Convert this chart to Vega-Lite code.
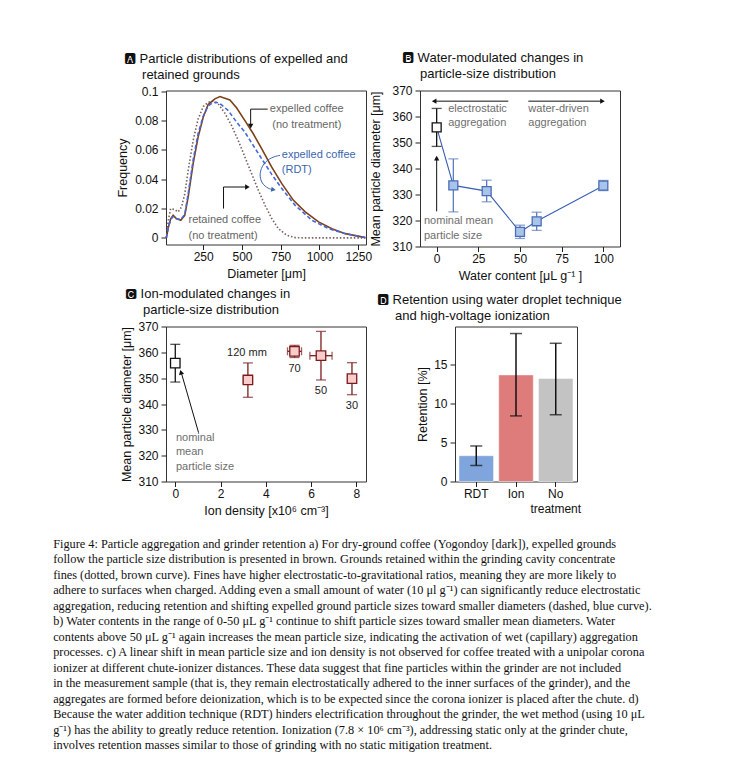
{
  "$schema": "https://vega.github.io/schema/vega-lite/v6.json",
  "autosize": {"type": "pad"},
  "padding": {"left": 53, "top": 51.5, "right": 5, "bottom": 5},
  "background": "white",
  "config": {
    "font": "Liberation Sans",
    "view": {"stroke": "#333333", "strokeWidth": 1},
    "axis": {"grid": false, "domain": false, "ticks": true, "tickColor": "#222222", "tickSize": 5, "tickWidth": 1, "labelColor": "#111111", "labelFontSize": 12, "labelFont": "Liberation Sans", "titleFont": "Liberation Sans", "titleFontSize": 12.5, "titleFontWeight": "normal", "titleColor": "#111111", "labelPadding": 3, "labelFlush": false, "labelOverlap": false},
    "axisX": {"labelPadding": 2, "titlePadding": 5},
    "title": {"font": "Liberation Sans, DejaVu Sans", "fontSize": 13, "fontWeight": "normal", "anchor": "start", "frame": "group", "color": "#111111", "lineHeight": 16},
    "text": {"font": "Liberation Sans"}
  },
  "title": {
    "text": [
      "Figure 4: Particle aggregation and grinder retention a) For dry-ground coffee (Yogondoy [dark]), expelled grounds",
      "follow the particle size distribution is presented in brown.  Grounds retained within the grinding cavity concentrate",
      "fines (dotted, brown curve).  Fines have higher electrostatic-to-gravitational ratios, meaning they are more likely to",
      "adhere to surfaces when charged. Adding even a small amount of water (10 μl g⁻¹) can significantly reduce electrostatic",
      "aggregation, reducing retention and shifting expelled ground particle sizes toward smaller diameters (dashed, blue curve).",
      "b) Water contents in the range of 0-50 μL g⁻¹ continue to shift particle sizes toward smaller mean diameters.  Water",
      "contents above 50 μL g⁻¹ again increases the mean particle size, indicating the activation of wet (capillary) aggregation",
      "processes. c) A linear shift in mean particle size and ion density is not observed for coffee treated with a unipolar corona",
      "ionizer at different chute-ionizer distances.  These data suggest that fine particles within the grinder are not included",
      "in the measurement sample (that is, they remain electrostatically adhered to the inner surfaces of the grinder), and the",
      "aggregates are formed before deionization, which is to be expected since the corona ionizer is placed after the chute. d)",
      "Because the water addition technique (RDT) hinders electrification throughout the grinder, the wet method (using 10 μL",
      "g⁻¹) has the ability to greatly reduce retention. Ionization (7.8 × 10⁶ cm⁻³), addressing static only at the grinder chute,",
      "involves retention masses similar to those of grinding with no static mitigation treatment."
    ],
    "orient": "bottom",
    "anchor": "start",
    "frame": "bounds",
    "font": "Liberation Serif",
    "fontSize": 12.3,
    "fontWeight": "normal",
    "lineHeight": 15.5,
    "color": "#111111",
    "offset": 20,
    "dx": -63,
    "baseline": "top"
  },
  "datasets": {
    "dist": [
      {"s": "exp", "d": 12, "f": 0}, {"s": "exp", "d": 25, "f": 0.007}, {"s": "exp", "d": 40, "f": 0.013}, {"s": "exp", "d": 56, "f": 0.0154}, {"s": "exp", "d": 77, "f": 0.0132}, {"s": "exp", "d": 105, "f": 0.012}, {"s": "exp", "d": 131, "f": 0.0154}, {"s": "exp", "d": 153, "f": 0.028}, {"s": "exp", "d": 185, "f": 0.0506}, {"s": "exp", "d": 217, "f": 0.0687}, {"s": "exp", "d": 250, "f": 0.0823}, {"s": "exp", "d": 282, "f": 0.0909}, {"s": "exp", "d": 325, "f": 0.0948}, {"s": "exp", "d": 358, "f": 0.0964}, {"s": "exp", "d": 390, "f": 0.0952}, {"s": "exp", "d": 422, "f": 0.094}, {"s": "exp", "d": 465, "f": 0.0887}, {"s": "exp", "d": 519, "f": 0.08}, {"s": "exp", "d": 573, "f": 0.071}, {"s": "exp", "d": 627, "f": 0.0608}, {"s": "exp", "d": 692, "f": 0.0483}, {"s": "exp", "d": 757, "f": 0.037}, {"s": "exp", "d": 832, "f": 0.0256}, {"s": "exp", "d": 908, "f": 0.0177}, {"s": "exp", "d": 994, "f": 0.0109}, {"s": "exp", "d": 1080, "f": 0.0063}, {"s": "exp", "d": 1167, "f": 0.0029}, {"s": "exp", "d": 1296, "f": 0.0002},
      {"s": "rdt", "d": 12, "f": 0}, {"s": "rdt", "d": 25, "f": 0.007}, {"s": "rdt", "d": 40, "f": 0.0125}, {"s": "rdt", "d": 56, "f": 0.0145}, {"s": "rdt", "d": 77, "f": 0.013}, {"s": "rdt", "d": 105, "f": 0.0125}, {"s": "rdt", "d": 131, "f": 0.016}, {"s": "rdt", "d": 153, "f": 0.03}, {"s": "rdt", "d": 185, "f": 0.053}, {"s": "rdt", "d": 217, "f": 0.071}, {"s": "rdt", "d": 250, "f": 0.083}, {"s": "rdt", "d": 282, "f": 0.09}, {"s": "rdt", "d": 314, "f": 0.0923}, {"s": "rdt", "d": 336, "f": 0.0925}, {"s": "rdt", "d": 365, "f": 0.091}, {"s": "rdt", "d": 412, "f": 0.0868}, {"s": "rdt", "d": 465, "f": 0.079}, {"s": "rdt", "d": 519, "f": 0.0721}, {"s": "rdt", "d": 573, "f": 0.063}, {"s": "rdt", "d": 627, "f": 0.054}, {"s": "rdt", "d": 692, "f": 0.0433}, {"s": "rdt", "d": 757, "f": 0.0336}, {"s": "rdt", "d": 843, "f": 0.0222}, {"s": "rdt", "d": 951, "f": 0.012}, {"s": "rdt", "d": 1059, "f": 0.0063}, {"s": "rdt", "d": 1167, "f": 0.0029}, {"s": "rdt", "d": 1296, "f": 0.0002},
      {"s": "ret", "d": 12, "f": 0}, {"s": "ret", "d": 25, "f": 0.012}, {"s": "ret", "d": 40, "f": 0.02}, {"s": "ret", "d": 66, "f": 0.0193}, {"s": "ret", "d": 88, "f": 0.0177}, {"s": "ret", "d": 110, "f": 0.021}, {"s": "ret", "d": 131, "f": 0.03}, {"s": "ret", "d": 153, "f": 0.046}, {"s": "ret", "d": 185, "f": 0.0664}, {"s": "ret", "d": 217, "f": 0.081}, {"s": "ret", "d": 250, "f": 0.0896}, {"s": "ret", "d": 282, "f": 0.0925}, {"s": "ret", "d": 314, "f": 0.0932}, {"s": "ret", "d": 347, "f": 0.0914}, {"s": "ret", "d": 390, "f": 0.085}, {"s": "ret", "d": 433, "f": 0.0766}, {"s": "ret", "d": 476, "f": 0.0664}, {"s": "ret", "d": 519, "f": 0.0551}, {"s": "ret", "d": 562, "f": 0.0438}, {"s": "ret", "d": 606, "f": 0.0324}, {"s": "ret", "d": 649, "f": 0.0222}, {"s": "ret", "d": 692, "f": 0.0132}, {"s": "ret", "d": 735, "f": 0.0063}, {"s": "ret", "d": 789, "f": 0.0018}, {"s": "ret", "d": 843, "f": 0.0002}, {"s": "ret", "d": 900, "f": 0}, {"s": "ret", "d": 1000, "f": 0}, {"s": "ret", "d": 1100, "f": 0}, {"s": "ret", "d": 1200, "f": 0}, {"s": "ret", "d": 1296, "f": 0}
    ],
    "annA": [
      {"g": "c", "d": 918, "f": 0.0878, "t": "expelled coffee"},
      {"g": "c", "d": 918, "f": 0.0769, "t": "(no treatment)"},
      {"g": "b", "d": 757, "f": 0.0567, "t": "expelled coffee"},
      {"g": "b", "d": 757, "f": 0.0463, "t": "(RDT)"},
      {"g": "l", "d": 155, "f": 0.0122, "t": "retained coffee"},
      {"g": "l", "d": 155, "f": 0.0014, "t": "(no treatment)"}
    ],
    "arrA": [
      {"a": "exp", "o": 1, "d": 666, "f": 0.0878}, {"a": "exp", "o": 2, "d": 556, "f": 0.0878}, {"a": "exp", "o": 3, "d": 556, "f": 0.0765},
      {"a": "ret", "o": 1, "d": 381, "f": 0.02}, {"a": "ret", "o": 2, "d": 381, "f": 0.0347}, {"a": "ret", "o": 3, "d": 535, "f": 0.0347}
    ],
    "arrArdt": [
      {"o": 1, "d": 746, "f": 0.0563}, {"o": 2, "d": 692, "f": 0.0551}, {"o": 3, "d": 638, "f": 0.051}, {"o": 4, "d": 610, "f": 0.0437}, {"o": 5, "d": 627, "f": 0.0369}, {"o": 6, "d": 671, "f": 0.0335}, {"o": 7, "d": 700, "f": 0.0329}
    ],
    "headA": [
      {"dir": "down", "d": 556, "f": 0.0762},
      {"dir": "right", "d": 535, "f": 0.0347}
    ],
    "headArdt": [{"d": 703, "f": 0.0329}],
    "ptsB": [
      {"w": 0, "d": 355.8, "lo": 348.5, "hi": 363.1},
      {"w": 10, "d": 333.5, "lo": 323.3, "hi": 343.7},
      {"w": 30, "d": 331.3, "lo": 327.2, "hi": 335.5},
      {"w": 50, "d": 315.6, "lo": 313.1, "hi": 318.2},
      {"w": 60, "d": 319.7, "lo": 316.2, "hi": 323.2},
      {"w": 100, "d": 333.4, "lo": 331.5, "hi": 335.4}
    ],
    "arrB": [
      {"a": "l", "o": 1, "w": 43, "d": 365.9}, {"a": "l", "o": 2, "w": -1.5, "d": 365.9},
      {"a": "r", "o": 1, "w": 55, "d": 365.9}, {"a": "r", "o": 2, "w": 99.5, "d": 365.9},
      {"a": "u", "o": 1, "w": 0, "d": 323.5}, {"a": "u", "o": 2, "w": 0, "d": 344}
    ],
    "headB": [
      {"dir": "left", "w": -1.5, "d": 365.9},
      {"dir": "right", "w": 99.5, "d": 365.9},
      {"dir": "up", "w": 0, "d": 344}
    ],
    "annB": [
      {"w": 6.9, "d": 362.9, "t": "electrostatic"},
      {"w": 6.9, "d": 357.4, "t": "aggregation"},
      {"w": 55, "d": 362.9, "t": "water-driven"},
      {"w": 55, "d": 357.4, "t": "aggregation"},
      {"w": -7.6, "d": 319.7, "t": "nominal mean"},
      {"w": -7.6, "d": 313.9, "t": "particle size"}
    ],
    "ptsC": [
      {"n": 0, "d": 355.8, "lo": 348.5, "hi": 363.1, "xl": 0, "xh": 0},
      {"n": 3.21, "d": 349.3, "lo": 342.6, "hi": 355.9, "xl": 3.01, "xh": 3.41},
      {"n": 5.27, "d": 360.4, "lo": 358.0, "hi": 362.7, "xl": 4.96, "xh": 5.58},
      {"n": 6.44, "d": 358.7, "lo": 349.3, "hi": 368.1, "xl": 5.95, "xh": 6.93},
      {"n": 7.81, "d": 349.8, "lo": 343.6, "hi": 356.0, "xl": 7.62, "xh": 8.0}
    ],
    "annCg": [
      {"n": 0.03, "d": 327, "t": "nominal"},
      {"n": 0.03, "d": 321.4, "t": "mean"},
      {"n": 0.03, "d": 315.8, "t": "particle size"}
    ],
    "annCk": [
      {"n": 3.17, "d": 359.7, "t": "120 mm"},
      {"n": 5.27, "d": 353.5, "t": "70"},
      {"n": 6.44, "d": 345.2, "t": "50"},
      {"n": 7.81, "d": 339.4, "t": "30"}
    ],
    "arrC": [
      {"o": 1, "n": 1.03, "d": 328.9}, {"o": 2, "n": 0.27, "d": 352.0}
    ],
    "headC": [{"n": 0.25, "d": 352.3}],
    "barD": [
      {"k": "RDT", "v": 3.3, "lo": 2.05, "hi": 4.55},
      {"k": "Ion", "v": 13.65, "lo": 8.4, "hi": 18.95},
      {"k": "No treatment", "v": 13.2, "lo": 8.55, "hi": 17.7}
    ]
  },
  "bounds": "flush",
  "spacing": 236,
  "vconcat": [
    {
      "bounds": "flush",
      "spacing": 54,
      "hconcat": [
        {
          "width": 200,
          "height": 154,
          "title": {"text": ["🅰 Particle distributions of expelled and", "\u200b\u00a0\u00a0\u00a0\u00a0\u00a0retained grounds"], "dx": -42, "offset": 3.5},
          "encoding": {
            "x": {"field": "d", "type": "quantitative", "scale": {"domain": [10, 1300], "nice": false, "zero": false}, "axis": {"values": [250, 500, 750, 1000, 1250], "format": "d", "title": "Diameter [μm]"}},
            "y": {"field": "f", "type": "quantitative", "scale": {"domain": [-0.0045, 0.1005], "nice": false, "zero": false}, "axis": {"values": [0, 0.02, 0.04, 0.06, 0.08, 0.1], "format": "~g", "title": "Frequency", "titlePadding": 5}}
          },
          "layer": [
            {"data": {"name": "dist"}, "transform": [{"filter": "datum.s == 'ret'"}], "mark": {"type": "line", "color": "#7a5f5f", "strokeWidth": 1.6, "strokeDash": [1.5, 2]}, "encoding": {}},
            {"data": {"name": "dist"}, "transform": [{"filter": "datum.s == 'exp'"}], "mark": {"type": "line", "color": "#7d4119", "strokeWidth": 1.6}, "encoding": {}},
            {"data": {"name": "dist"}, "transform": [{"filter": "datum.s == 'rdt'"}], "mark": {"type": "line", "color": "#4466e0", "strokeWidth": 1.6, "strokeDash": [4, 2.5]}, "encoding": {}},
            {"data": {"name": "arrA"}, "mark": {"type": "line", "color": "#111111", "strokeWidth": 1}, "encoding": {"detail": {"field": "a"}, "order": {"field": "o"}}},
            {"data": {"name": "arrArdt"}, "mark": {"type": "line", "color": "#3a66b0", "strokeWidth": 1, "interpolate": "basis"}, "encoding": {"order": {"field": "o"}}},
            {"data": {"name": "headA"}, "mark": {"type": "point", "filled": true, "color": "#111111", "size": 28, "opacity": 1}, "encoding": {"shape": {"field": "dir", "type": "nominal", "scale": {"domain": ["down", "right", "left", "up"], "range": ["triangle-down", "triangle-right", "triangle-left", "triangle-up"]}, "legend": null}}},
            {"data": {"name": "headArdt"}, "mark": {"type": "point", "filled": true, "color": "#3a66b0", "size": 28, "opacity": 1, "shape": "triangle-right", "angle": 10}, "encoding": {}},
            {"data": {"name": "annA"}, "transform": [{"filter": "datum.g == 'c'"}], "mark": {"type": "text", "align": "center", "baseline": "middle", "fontSize": 11, "color": "#666666"}, "encoding": {"text": {"field": "t"}}},
            {"data": {"name": "annA"}, "transform": [{"filter": "datum.g == 'l'"}], "mark": {"type": "text", "align": "left", "baseline": "middle", "fontSize": 11, "color": "#666666"}, "encoding": {"text": {"field": "t"}}},
            {"data": {"name": "annA"}, "transform": [{"filter": "datum.g == 'b'"}], "mark": {"type": "text", "align": "left", "baseline": "middle", "fontSize": 11, "color": "#3a66b0"}, "encoding": {"text": {"field": "t"}}}
          ]
        },
        {
          "width": 200,
          "height": 156,
          "title": {"text": ["🅱 Water-modulated changes in", "\u200b\u00a0\u00a0\u00a0\u00a0\u00a0particle-size distribution"], "dx": -18, "offset": 3.5},
          "encoding": {
            "x": {"field": "w", "type": "quantitative", "scale": {"domain": [-10, 110], "nice": false, "zero": false}, "axis": {"values": [0, 25, 50, 75, 100], "title": "Water content [μL g⁻¹ ]"}},
            "y": {"field": "d", "type": "quantitative", "scale": {"domain": [310, 370], "nice": false, "zero": false}, "axis": {"values": [310, 320, 330, 340, 350, 360, 370], "title": "Mean particle diameter [μm]", "titlePadding": 9}}
          },
          "layer": [
            {"data": {"values": [{}]}, "mark": {"type": "rect", "fill": {"gradient": "linear", "x1": 0, "x2": 1, "y1": 0, "y2": 0, "stops": [{"offset": 0, "color": "#f56e6e"}, {"offset": 0.5, "color": "#ffffff"}, {"offset": 1, "color": "#c8daf6"}]}}, "encoding": {"x": {"datum": -10}, "x2": {"datum": 110}, "y": {"datum": 310}, "y2": {"datum": 370}}},
            {"data": {"name": "arrB"}, "mark": {"type": "line", "color": "#111111", "strokeWidth": 1}, "encoding": {"detail": {"field": "a"}, "order": {"field": "o"}}},
            {"data": {"name": "headB"}, "mark": {"type": "point", "filled": true, "color": "#111111", "size": 28, "opacity": 1}, "encoding": {"shape": {"field": "dir", "type": "nominal", "scale": {"domain": ["down", "right", "left", "up"], "range": ["triangle-down", "triangle-right", "triangle-left", "triangle-up"]}, "legend": null}}},
            {"data": {"name": "annB"}, "mark": {"type": "text", "align": "left", "baseline": "middle", "fontSize": 11, "color": "#6e6e6e"}, "encoding": {"text": {"field": "t"}}},
            {"data": {"name": "ptsB"}, "mark": {"type": "rule", "strokeWidth": 1.3}, "encoding": {"y": {"field": "lo", "type": "quantitative"}, "y2": {"field": "hi"}, "color": {"condition": {"test": "datum.w == 0", "value": "#111111"}, "value": "#5a7cc0"}}},
            {"data": {"name": "ptsB"}, "transform": [{"fold": ["lo", "hi"], "as": ["k", "v"]}], "mark": {"type": "tick", "orient": "horizontal", "size": 10, "thickness": 1.3}, "encoding": {"y": {"field": "v", "type": "quantitative"}, "color": {"condition": {"test": "datum.w == 0", "value": "#111111"}, "value": "#5a7cc0"}}},
            {"data": {"name": "ptsB"}, "mark": {"type": "line", "color": "#3a5fb5", "strokeWidth": 1.1}, "encoding": {}},
            {"data": {"name": "ptsB"}, "mark": {"type": "point", "shape": "square", "filled": true, "size": 80, "strokeWidth": 1.3, "opacity": 1}, "encoding": {"fill": {"condition": {"test": "datum.w == 0", "value": "#ffffff"}, "value": "#a9c4ea"}, "stroke": {"condition": {"test": "datum.w == 0", "value": "#111111"}, "value": "#4a6db5"}}},
            {"data": {"values": [{}]}, "mark": {"type": "rect", "fillOpacity": 0, "stroke": "#333333", "strokeWidth": 1}, "encoding": {"x": {"datum": -10}, "x2": {"datum": 110}, "y": {"datum": 310}, "y2": {"datum": 370}}}
          ]
        }
      ]
    },
    {
      "bounds": "flush",
      "spacing": 89,
      "hconcat": [
        {
          "width": 200,
          "height": 155,
          "title": {"text": ["🅲 Ion-modulated changes in", "\u200b\u00a0\u00a0\u00a0\u00a0\u00a0particle-size distribution"], "dx": -41, "offset": 3.5},
          "encoding": {
            "x": {"field": "n", "type": "quantitative", "scale": {"domain": [-0.41, 8.43], "nice": false, "zero": false}, "axis": {"values": [0, 2, 4, 6, 8], "title": "Ion density [x10⁶ cm⁻³]"}},
            "y": {"field": "d", "type": "quantitative", "scale": {"domain": [310, 370], "nice": false, "zero": false}, "axis": {"values": [310, 320, 330, 340, 350, 360, 370], "title": "Mean particle diameter [μm]", "titlePadding": 4}}
          },
          "layer": [
            {"data": {"name": "arrC"}, "mark": {"type": "line", "color": "#111111", "strokeWidth": 1}, "encoding": {"order": {"field": "o"}}},
            {"data": {"name": "headC"}, "mark": {"type": "point", "filled": true, "color": "#111111", "size": 28, "opacity": 1, "shape": "triangle-up", "angle": -16}, "encoding": {}},
            {"data": {"name": "annCg"}, "mark": {"type": "text", "align": "left", "baseline": "middle", "fontSize": 11, "color": "#6e6e6e"}, "encoding": {"text": {"field": "t"}}},
            {"data": {"name": "annCk"}, "mark": {"type": "text", "align": "center", "baseline": "middle", "fontSize": 11, "color": "#222222"}, "encoding": {"text": {"field": "t"}}},
            {"data": {"name": "ptsC"}, "mark": {"type": "rule", "strokeWidth": 1.3}, "encoding": {"y": {"field": "lo", "type": "quantitative"}, "y2": {"field": "hi"}, "color": {"condition": {"test": "datum.n == 0", "value": "#111111"}, "value": "#7a1c1c"}}},
            {"data": {"name": "ptsC"}, "transform": [{"fold": ["lo", "hi"], "as": ["k", "v"]}], "mark": {"type": "tick", "orient": "horizontal", "size": 10, "thickness": 1.3}, "encoding": {"y": {"field": "v", "type": "quantitative"}, "color": {"condition": {"test": "datum.n == 0", "value": "#111111"}, "value": "#7a1c1c"}}},
            {"data": {"name": "ptsC"}, "transform": [{"filter": "datum.xh > datum.xl"}], "mark": {"type": "rule", "strokeWidth": 1.3, "color": "#7a1c1c"}, "encoding": {"x": {"field": "xl", "type": "quantitative"}, "x2": {"field": "xh"}}},
            {"data": {"name": "ptsC"}, "transform": [{"filter": "datum.xh > datum.xl"}, {"fold": ["xl", "xh"], "as": ["k", "u"]}], "mark": {"type": "tick", "orient": "vertical", "size": 8, "thickness": 1.3, "color": "#7a1c1c"}, "encoding": {"x": {"field": "u", "type": "quantitative"}}},
            {"data": {"name": "ptsC"}, "mark": {"type": "point", "shape": "square", "filled": true, "size": 90, "strokeWidth": 1.3, "opacity": 1}, "encoding": {"fill": {"condition": {"test": "datum.n == 0", "value": "#ffffff"}, "value": "#f9cccc"}, "stroke": {"condition": {"test": "datum.n == 0", "value": "#111111"}, "value": "#7a1c1c"}}}
          ]
        },
        {
          "width": 122,
          "height": 155,
          "title": {"text": ["🅳 Retention using water droplet technique", "\u200b\u00a0\u00a0\u00a0\u00a0\u00a0and high-voltage ionization"], "dx": -78, "offset": 3.5},
          "data": {"name": "barD"},
          "encoding": {
            "x": {"field": "k", "type": "nominal", "sort": ["RDT", "Ion", "No treatment"], "scale": {"paddingInner": 0.13, "paddingOuter": 0.1}, "axis": {"title": null, "labelAngle": 0, "labelLineHeight": 15, "labelExpr": "datum.value == 'No treatment' ? ['No', 'treatment'] : datum.label"}}
          },
          "layer": [
            {"mark": {"type": "bar", "stroke": "#ffffff", "strokeWidth": 0.8, "strokeOpacity": 0.6}, "encoding": {"y": {"field": "v", "type": "quantitative", "scale": {"domain": [0, 19.85], "nice": false, "zero": false}, "axis": {"values": [0, 5, 10, 15], "title": "Retention [%]", "titlePadding": 4.5}}, "color": {"field": "k", "type": "nominal", "scale": {"domain": ["RDT", "Ion", "No treatment"], "range": ["#7fa5dc", "#de7c7c", "#c3c3c3"]}, "legend": null}}},
            {"mark": {"type": "rule", "color": "#111111", "strokeWidth": 1.5}, "encoding": {"y": {"field": "lo", "type": "quantitative"}, "y2": {"field": "hi"}}},
            {"transform": [{"fold": ["lo", "hi"], "as": ["kk", "vv"]}], "mark": {"type": "tick", "orient": "horizontal", "size": 12, "thickness": 1.5, "color": "#111111"}, "encoding": {"y": {"field": "vv", "type": "quantitative"}}}
          ]
        }
      ]
    }
  ]
}
